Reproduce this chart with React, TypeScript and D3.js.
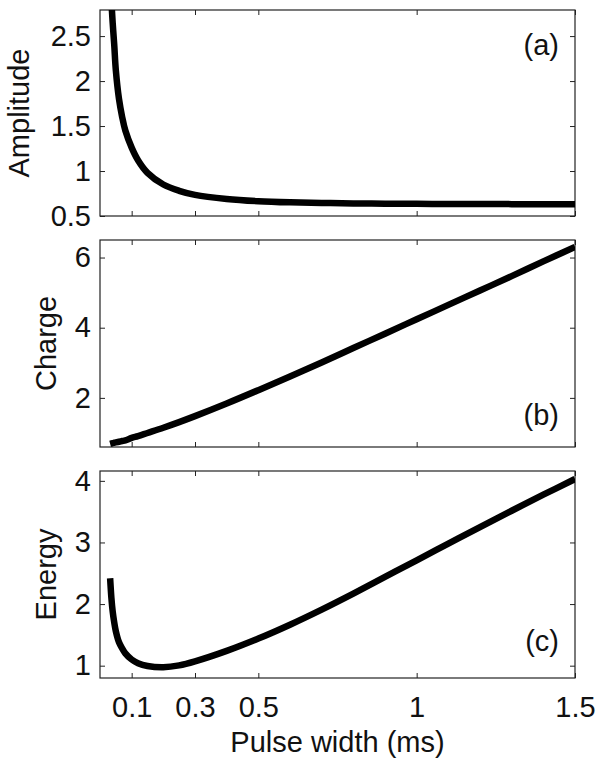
import React, { useRef, useEffect } from 'react'
import * as d3 from 'd3'

// values
const pulseWidth = [0.032, 0.036, 0.04, 0.045, 0.05, 0.06, 0.07, 0.08, 0.1, 0.12, 0.15, 0.2, 0.25, 0.3, 0.4, 0.5, 0.6, 0.7, 0.8, 0.9, 1.0, 1.1, 1.2, 1.3, 1.4, 1.5]
const amplitude = [3.3, 2.9, 2.65, 2.4, 2.12, 1.8, 1.6, 1.45, 1.26, 1.12, 0.98, 0.85, 0.78, 0.735, 0.69, 0.665, 0.652, 0.645, 0.64, 0.637, 0.635, 0.634, 0.633, 0.632, 0.632, 0.632]
const charge = [0.69, 0.7, 0.71, 0.72, 0.73, 0.75, 0.77, 0.79, 0.86, 0.91, 1.0, 1.15, 1.31, 1.48, 1.84, 2.22, 2.61, 3.01, 3.42, 3.83, 4.24, 4.65, 5.06, 5.47, 5.89, 6.3]
const energy = [2.42, 2.1, 1.88, 1.7, 1.56, 1.38, 1.28, 1.2, 1.1, 1.04, 0.995, 0.975, 1.005, 1.07, 1.24, 1.44, 1.665, 1.91, 2.17, 2.44, 2.71, 2.98, 3.25, 3.515, 3.775, 4.03]

const xTicks = [0.1, 0.3, 0.5, 1, 1.5]
const amplitudeTicks = [0.5, 1, 1.5, 2, 2.5]
const chargeTicks = [2, 4, 6]
const energyTicks = [1, 2, 3, 4]

const panelNames = ['Amplitude', 'Charge', 'Energy']
const panelLetters = ['(a)', '(b)', '(c)']
const xLabel = 'Pulse width (ms)'

const FONT = '"Liberation Sans", Arial, Helvetica, sans-serif'
const FS = 29

export default function App() {
    const svgRef = useRef<SVGSVGElement>(null)

    useEffect(() => {
        const svg = d3.select(svgRef.current)
        svg.selectAll('*').remove()

        const left = 100, right = 575
        const panels = [
            {name: panelNames[0], letter: panelLetters[0], values: amplitude, ticks: amplitudeTicks, domain: [0.5, 2.79], top: 10, bottom: 216, labelX: 29, letterY: 55},
            {name: panelNames[1], letter: panelLetters[1], values: charge, ticks: chargeTicks, domain: [0.6, 6.5], top: 240, bottom: 447, labelX: 56, letterY: 425},
            {name: panelNames[2], letter: panelLetters[2], values: energy, ticks: energyTicks, domain: [0.8, 4.16], top: 471, bottom: 678, labelX: 56, letterY: 651},
        ]

        const x = d3.scaleLinear().domain([0, 1.5]).range([left, right])

        panels.forEach((p, i) => {
            const y = d3.scaleLinear().domain(p.domain).range([p.bottom, p.top])
            const g = svg.append('g')

            g.append('clipPath').attr('id', 'clip' + i)
                .append('rect')
                .attr('x', left).attr('y', p.top)
                .attr('width', right - left).attr('height', p.bottom - p.top)

            const fmt = (d: any) => `${d}`

            // left axis with labels
            const yl = g.append('g').attr('transform', `translate(${left},0)`)
                .call(d3.axisLeft(y).tickValues(p.ticks).tickSizeInner(-5).tickSizeOuter(0).tickPadding(9).tickFormat(fmt))
            // mirrored ticks on right and top, no labels
            const yr = g.append('g').attr('transform', `translate(${right},0)`)
                .call(d3.axisRight(y).tickValues(p.ticks).tickSizeInner(-5).tickSizeOuter(0).tickFormat(() => ''))
            const xt = g.append('g').attr('transform', `translate(0,${p.top})`)
                .call(d3.axisTop(x).tickValues(xTicks).tickSizeInner(-5).tickSizeOuter(0).tickFormat(() => ''))
            const xb = g.append('g').attr('transform', `translate(0,${p.bottom})`)
                .call(d3.axisBottom(x).tickValues(xTicks).tickSizeInner(-5).tickSizeOuter(0).tickPadding(18)
                    .tickFormat(i === 2 ? fmt : () => ''))

            ;[yl, yr, xt, xb].forEach(a => {
                a.select('.domain').remove()
                a.selectAll('line').attr('stroke', '#222').attr('stroke-width', 1)
                a.selectAll('text').attr('font-family', FONT).attr('font-size', FS).attr('fill', '#111')
            })

            g.append('rect')
                .attr('x', left).attr('y', p.top)
                .attr('width', right - left).attr('height', p.bottom - p.top)
                .attr('fill', 'none').attr('stroke', '#222').attr('stroke-width', 1.2)

            const line = d3.line<number>()
                .x((d, k) => x(pulseWidth[k]))
                .y(d => y(d))
                .curve(d3.curveCatmullRom.alpha(0.5))

            g.append('path')
                .datum(p.values)
                .attr('clip-path', `url(#clip${i})`)
                .attr('fill', 'none')
                .attr('stroke', '#000')
                .attr('stroke-width', 6.5)
                .attr('stroke-linejoin', 'round')
                .attr('d', line)

            g.append('text')
                .attr('transform', `translate(${p.labelX},${(p.top + p.bottom) / 2}) rotate(-90)`)
                .attr('text-anchor', 'middle')
                .attr('font-family', FONT).attr('font-size', FS).attr('fill', '#111')
                .text(p.name)

            g.append('text')
                .attr('x', 559).attr('y', p.letterY)
                .attr('text-anchor', 'end')
                .attr('font-family', FONT).attr('font-size', FS).attr('fill', '#111')
                .text(p.letter)
        })

        svg.append('text')
            .attr('x', (left + right) / 2).attr('y', 752)
            .attr('text-anchor', 'middle')
            .attr('font-family', FONT).attr('font-size', FS).attr('fill', '#111')
            .text(xLabel)
    }, [])

    return (
        <svg ref={svgRef} width={602} height={765}
             style={{position: 'absolute', left: 0, top: 0, background: '#fff'}} />
    )
}
